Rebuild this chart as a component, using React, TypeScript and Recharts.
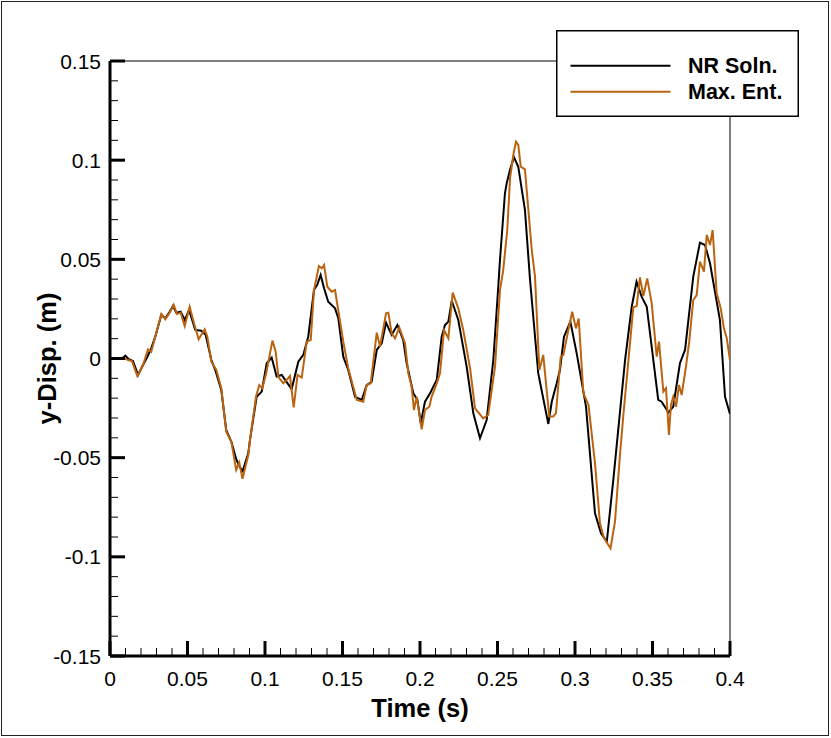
import React from 'react';
import { LineChart, Line, XAxis, YAxis, ReferenceLine, Legend, Label } from 'recharts';

// [time (s), y-displacement (m)]
const NR_SOLN: [number, number][] = [
  [0, 0], [0.0084, 0.0004], [0.0099, 0.0014], [0.0121, -0.0004], [0.0148, -0.0013], [0.0181, -0.0083],
  [0.0213, -0.0033], [0.0241, 0.0009], [0.0266, 0.0051], [0.0292, 0.011], [0.0331, 0.0219], [0.0357, 0.0203],
  [0.0385, 0.0236], [0.0406, 0.0265], [0.0428, 0.0231], [0.0456, 0.0236], [0.0482, 0.0194], [0.051, 0.0245],
  [0.055, 0.0144], [0.0589, 0.014], [0.0617, 0.0119], [0.0654, -0.0008], [0.0679, -0.0058], [0.0718, -0.0159],
  [0.075, -0.0361], [0.0783, -0.042], [0.0815, -0.0509], [0.0837, -0.0546], [0.0856, -0.0567], [0.0892, -0.0478],
  [0.0903, -0.0411], [0.0946, -0.0193], [0.0979, -0.0167], [0.1011, -0.0024], [0.1043, 0.0005], [0.1075, -0.0091],
  [0.1108, -0.0083], [0.114, -0.0119], [0.1172, -0.0154], [0.1215, -0.0016], [0.1247, 0.0018], [0.1279, 0.011],
  [0.1316, 0.0345], [0.1337, 0.0371], [0.1359, 0.0421], [0.1381, 0.0354], [0.1408, 0.0286], [0.1452, 0.0253],
  [0.1473, 0.0203], [0.1505, 0.0009], [0.1537, -0.0058], [0.1581, -0.0193], [0.1624, -0.0209], [0.1656, -0.0134],
  [0.1688, -0.0117], [0.1721, 0.0043], [0.1753, 0.0077], [0.1781, 0.0181], [0.1817, 0.0119], [0.1854, 0.0169],
  [0.1892, 0.0093], [0.1914, -0.0024], [0.1957, -0.0175], [0.1983, -0.0209], [0.2005, -0.0327], [0.2032, -0.0218],
  [0.2065, -0.0175], [0.2108, -0.0108], [0.214, 0.011], [0.2161, 0.0169], [0.2183, 0.0186], [0.2205, 0.0291],
  [0.2247, 0.0194], [0.2301, -0.0041], [0.2344, -0.0276], [0.2387, -0.0402], [0.243, -0.031], [0.2473, -0.0008],
  [0.2505, 0.0362], [0.2516, 0.0497], [0.2548, 0.0833], [0.2559, 0.0883], [0.2581, 0.0951], [0.2606, 0.1015],
  [0.2634, 0.0967], [0.2677, 0.0749], [0.271, 0.0396], [0.2763, -0.0075], [0.2828, -0.033], [0.285, -0.0218],
  [0.2882, -0.0125], [0.2903, -0.0058], [0.2929, 0.011], [0.297, 0.0186], [0.3011, 0.0026], [0.3071, -0.0243],
  [0.3129, -0.0781], [0.3168, -0.0881], [0.3205, -0.0924], [0.3247, -0.0613], [0.3323, -0.0008], [0.3366, 0.0261],
  [0.3397, 0.0387], [0.343, 0.0312], [0.3463, 0.0261], [0.3537, -0.0209], [0.3559, -0.0218], [0.3603, -0.0273],
  [0.3634, -0.0243], [0.3677, -0.0024], [0.371, 0.0043], [0.3763, 0.0413], [0.3806, 0.0584], [0.3839, 0.0572],
  [0.3871, 0.048], [0.3935, 0.0194], [0.3968, -0.0193], [0.4, -0.028],
];

const MAX_ENT: [number, number][] = [
  [0, 0], [0.0084, 0.0004], [0.0116, -0.0008], [0.0142, -0.0013], [0.0176, -0.0088], [0.0213, -0.0033],
  [0.0245, 0.0046], [0.0266, 0.0034], [0.0299, 0.013], [0.0331, 0.0224], [0.0357, 0.0198], [0.0385, 0.0231],
  [0.0411, 0.0271], [0.0432, 0.0224], [0.0456, 0.0231], [0.0482, 0.0164], [0.0514, 0.0261], [0.0542, 0.0178],
  [0.0572, 0.0097], [0.0611, 0.0147], [0.0628, 0.011], [0.0654, -0.0016], [0.0686, -0.0058], [0.0718, -0.015],
  [0.075, -0.0369], [0.0783, -0.042], [0.0814, -0.0562], [0.0834, -0.0525], [0.0855, -0.0607], [0.0892, -0.0487],
  [0.0903, -0.0411], [0.0942, -0.0193], [0.0963, -0.0134], [0.0983, -0.015], [0.1008, -0.0073], [0.1048, 0.009],
  [0.1069, 0.0034], [0.1086, -0.0092], [0.1118, -0.0125], [0.114, -0.0108], [0.1161, -0.0088], [0.1185, -0.0247],
  [0.121, -0.0083], [0.1237, -0.0096], [0.1269, 0.0085], [0.1295, 0.0093], [0.1316, 0.0345], [0.1348, 0.0466],
  [0.1366, 0.0455], [0.1381, 0.0472], [0.1402, 0.0362], [0.143, 0.0337], [0.1452, 0.0345], [0.1469, 0.0261],
  [0.1505, 0.0085], [0.1537, -0.0049], [0.1592, -0.0209], [0.1634, -0.0218], [0.1656, -0.0134], [0.1682, -0.0125],
  [0.1721, 0.013], [0.1742, 0.006], [0.1781, 0.0228], [0.1796, 0.0231], [0.1817, 0.0127], [0.1839, 0.0102],
  [0.1866, 0.0157], [0.1903, 0.0077], [0.1925, -0.0075], [0.1946, -0.0142], [0.1961, -0.026], [0.1979, -0.0193],
  [0.2011, -0.0357], [0.2032, -0.026], [0.206, -0.0243], [0.2075, -0.0193], [0.2108, -0.0125], [0.2129, -0.0075],
  [0.2155, 0.0144], [0.2183, 0.0102], [0.2211, 0.0332], [0.2247, 0.0253], [0.2279, 0.0144], [0.2323, -0.0049],
  [0.2355, -0.0251], [0.2408, -0.0302], [0.244, -0.0285], [0.2484, -0.0041], [0.2516, 0.0345], [0.2537, 0.0446],
  [0.2563, 0.0648], [0.2581, 0.0909], [0.2602, 0.1026], [0.2619, 0.1093], [0.2634, 0.1077], [0.265, 0.0967],
  [0.2677, 0.0954], [0.2721, 0.0547], [0.2742, 0.0413], [0.277, -0.0058], [0.2795, 0.0018], [0.2834, -0.0293],
  [0.286, -0.0293], [0.2877, -0.0276], [0.2908, 0.0009], [0.2925, 0.0018], [0.2957, 0.0144], [0.2982, 0.0236],
  [0.3006, 0.0152], [0.3024, 0.0201], [0.3054, -0.0175], [0.3087, -0.0234], [0.3129, -0.0528], [0.3161, -0.0831],
  [0.3187, -0.0905], [0.3229, -0.0957], [0.3258, -0.0823], [0.329, -0.0487], [0.3312, -0.0285], [0.3344, -0.0016],
  [0.3376, 0.0258], [0.3398, 0.0265], [0.3419, 0.0409], [0.3441, 0.0315], [0.3466, 0.0404], [0.3495, 0.0278],
  [0.3527, 0.0009], [0.3542, 0.0085], [0.357, -0.0167], [0.3587, -0.015], [0.3606, -0.0386], [0.3619, -0.0234],
  [0.3634, -0.0193], [0.3652, -0.0243], [0.3671, -0.0134], [0.3688, -0.0184], [0.3716, -0.0041], [0.3737, 0.0085],
  [0.3763, 0.0295], [0.3785, 0.032], [0.3806, 0.0488], [0.3832, 0.0438], [0.385, 0.0623], [0.3871, 0.0572],
  [0.3888, 0.0648], [0.3914, 0.0329], [0.394, 0.0253], [0.3961, 0.0152], [0.3979, 0.0102], [0.4, -0.0008],
];

const X_TICKS = Array.from({ length: 41 }, (_, i) => i / 100);
const Y_TICKS = Array.from({ length: 31 }, (_, i) => (i - 15) / 100);
const SERIES_ORDER = ['NR Soln.', 'Max. Ent.'];

const FONT = '"Liberation Sans", Arial, Helvetica, sans-serif';
const NR_COLOR = '#000000';
const ME_COLOR = '#BA6410';

const nrData = NR_SOLN.map(([t, v]) => ({ t, v }));
const meData = MAX_ENT.map(([t, v]) => ({ t, v }));

const fmt = (v: number) => String(Math.round(v * 100) / 100);
const isMajor = (v: number) => Math.round(v * 100) % 5 === 0;

const XTick = (props: any) => {
  const { x, y, payload } = props;
  const major = isMajor(payload.value);
  return (
    <g>
      <line x1={x} x2={x} y1={y} y2={y - (major ? 15 : 8)} stroke="#000" strokeWidth={major ? 3 : 1} />
      {major && (
        <text x={x} y={y + 30} textAnchor="middle" fontSize={21} fontFamily={FONT} fill="#000">
          {fmt(payload.value)}
        </text>
      )}
    </g>
  );
};

const YTick = (props: any) => {
  const { x, y, payload } = props;
  const major = isMajor(payload.value);
  return (
    <g>
      <line x1={x} x2={x + (major ? 15 : 8)} y1={y} y2={y} stroke="#000" strokeWidth={major ? 3 : 1} />
      {major && (
        <text x={x - 9} y={y + 7.5} textAnchor="end" fontSize={21} fontFamily={FONT} fill="#000">
          {fmt(payload.value)}
        </text>
      )}
    </g>
  );
};

const renderLegend = (props: any) => {
  const items = [...(props.payload || [])].sort(
    (a: any, b: any) => SERIES_ORDER.indexOf(a.value) - SERIES_ORDER.indexOf(b.value)
  );
  return (
    <svg width={243} height={87} style={{ display: 'block' }}>
      <rect x={0.75} y={0.75} width={241.5} height={85.5} fill="#fff" stroke="#000" strokeWidth={1.5} />
      {items.map((it: any, i: number) => (
        <g key={it.value}>
          <line x1={14.5} x2={114.5} y1={35.7 + i * 26} y2={35.7 + i * 26} stroke={it.color} strokeWidth={2} />
          <text x={132} y={42.7 + i * 26.3} fontSize={21.5} fontWeight="bold" fontFamily={FONT} fill="#000">
            {it.value}
          </text>
        </g>
      ))}
    </svg>
  );
};

export default function App() {
  return (
    <div style={{ position: 'relative', width: 831, height: 738, background: '#fff' }}>
      <style>{'body{margin:0;background:#fff}'}</style>
      <LineChart width={831} height={738} margin={{ top: 61, right: 101, bottom: 0, left: 0 }}>
        <XAxis
          dataKey="t"
          type="number"
          domain={[0, 0.4]}
          ticks={X_TICKS}
          interval={0}
          height={82}
          tickSize={0}
          tickMargin={0}
          tickLine={false}
          axisLine={{ stroke: '#000', strokeWidth: 3 }}
          tick={<XTick />}
          allowDataOverflow
        >
          <Label
            content={(p: any) => {
              const vb = p.viewBox || { x: 110, y: 656, width: 620, height: 82 };
              return (
                <text x={vb.x + vb.width / 2} y={vb.y + 61} textAnchor="middle" fontSize={25.5} fontWeight="bold" fontFamily={FONT} fill="#000">
                  Time (s)
                </text>
              );
            }}
          />
        </XAxis>
        <YAxis
          type="number"
          domain={[-0.15, 0.15]}
          ticks={Y_TICKS}
          interval={0}
          width={110}
          tickSize={0}
          tickMargin={0}
          tickLine={false}
          axisLine={{ stroke: '#000', strokeWidth: 3 }}
          tick={<YTick />}
          allowDataOverflow
        >
          <Label
            content={(p: any) => {
              const vb = p.viewBox || { x: 0, y: 61, width: 110, height: 595 };
              const cx = 56;
              const cy = vb.y + vb.height / 2;
              return (
                <text x={cx} y={cy} transform={`rotate(-90, ${cx}, ${cy})`} textAnchor="middle" fontSize={25.5} fontWeight="bold" fontFamily={FONT} fill="#000">
                  y-Disp. (m)
                </text>
              );
            }}
          />
        </YAxis>
        <ReferenceLine y={0.15} stroke="#000" strokeWidth={1} ifOverflow="visible" />
        <ReferenceLine x={0.4} stroke="#000" strokeWidth={1} ifOverflow="visible" />
        <Line
          data={nrData}
          dataKey="v"
          name="NR Soln."
          type="linear"
          stroke={NR_COLOR}
          strokeWidth={2}
          dot={false}
          activeDot={false}
          isAnimationActive={false}
        />
        <Line
          data={meData}
          dataKey="v"
          name="Max. Ent."
          type="linear"
          stroke={ME_COLOR}
          strokeWidth={2}
          dot={false}
          activeDot={false}
          isAnimationActive={false}
        />
        <Legend
          layout="horizontal"
          verticalAlign="middle"
          align="center"
          content={renderLegend}
          wrapperStyle={{ left: 556, top: 30, width: 243, height: 87 }}
        />
      </LineChart>
      <div
        style={{
          position: 'absolute',
          left: 1,
          top: 1,
          width: 828,
          height: 735,
          border: '1px solid #222',
          boxSizing: 'border-box',
          pointerEvents: 'none',
        }}
      />
    </div>
  );
}
